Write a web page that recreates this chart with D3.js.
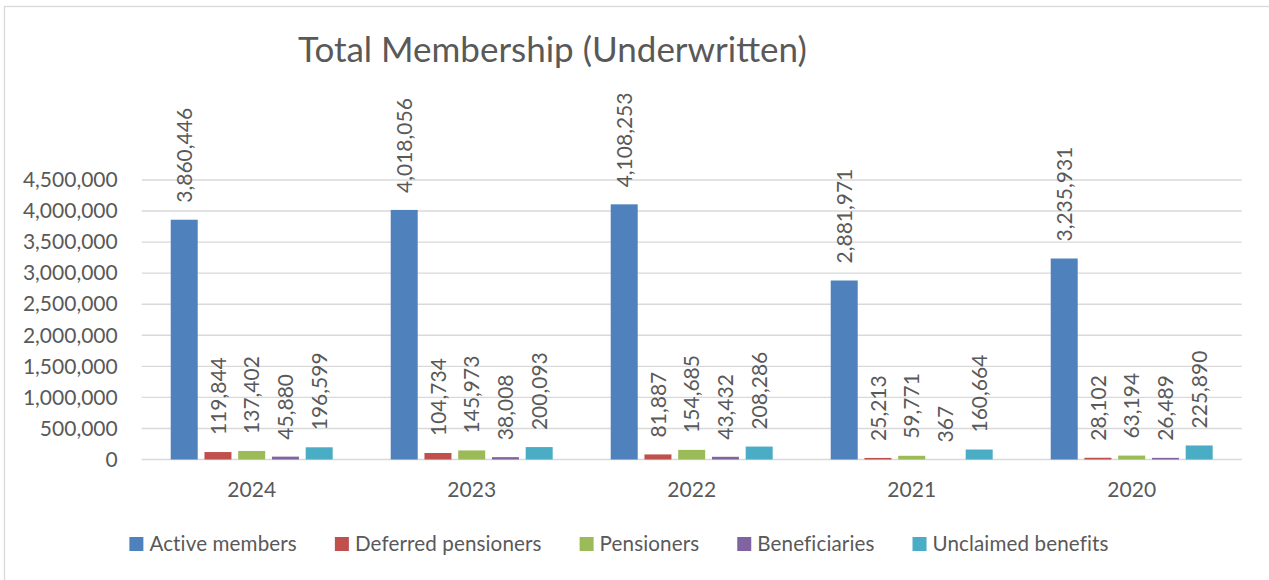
<!DOCTYPE html>
<html>
<head>
<meta charset="utf-8">
<script src="https://cdn.jsdelivr.net/npm/d3@7"></script>
<style>
  html, body { margin: 0; padding: 0; background: #fff; }
  svg { display: block; font-family: Lato, "Noto Sans", sans-serif; }
</style>
</head>
<body>
<svg id="chart" width="1269" height="580"></svg>
<script>
const title = "Total Membership (Underwritten)";
const categories = ["2024", "2023", "2022", "2021", "2020"];
const seriesNames = ["Active members", "Deferred pensioners", "Pensioners", "Beneficiaries", "Unclaimed benefits"];
const seriesColors = ["#4F81BD", "#C0504D", "#9BBB59", "#8064A2", "#4BACC6"];
const activeMembers = [3860446, 4018056, 4108253, 2881971, 3235931];
const deferredPensioners = [119844, 104734, 81887, 25213, 28102];
const pensioners = [137402, 145973, 154685, 59771, 63194];
const beneficiaries = [45880, 38008, 43432, 367, 26489];
const unclaimedBenefits = [196599, 200093, 208286, 160664, 225890];
const yTicks = [0, 500000, 1000000, 1500000, 2000000, 2500000, 3000000, 3500000, 4000000, 4500000];

const seriesValues = [activeMembers, deferredPensioners, pensioners, beneficiaries, unclaimedBenefits];

const svg = d3.select("#chart");
const textColor = "#595959";
const gridColor = "#d9d9d9";

// outer chart border
svg.append("rect")
  .attr("x", 4.5).attr("y", 6.5)
  .attr("width", 1300).attr("height", 620)
  .attr("fill", "none").attr("stroke", gridColor).attr("stroke-width", 1.3);

const plot = { left: 141.7, right: 1241.7, top: 180, bottom: 459.5 };

const x0 = d3.scaleBand().domain(categories).range([plot.left, plot.right]).paddingInner(0).paddingOuter(0);
const groupW = x0.bandwidth();
const barW = groupW / 8.15;
const step = barW * 1.25;
const clusterW = step * 4 + barW;
const x1 = d3.scaleBand().domain(seriesNames).range([(groupW - clusterW) / 2, (groupW - clusterW) / 2 + step * 5]).paddingInner(0);

const y = d3.scaleLinear().domain([0, 4500000]).range([plot.bottom, plot.top]);

// gridlines
svg.append("g").selectAll("line").data(yTicks).join("line")
  .attr("x1", plot.left).attr("x2", plot.right)
  .attr("y1", d => y(d)).attr("y2", d => y(d))
  .attr("stroke", gridColor).attr("stroke-width", 1.4);

// y axis labels
const yAxis = d3.axisLeft(y).tickValues(yTicks).tickFormat(d3.format(",")).tickSize(0).tickPadding(0);
const yg = svg.append("g").attr("transform", `translate(${plot.left - 24},0)`).call(yAxis);
yg.select(".domain").remove();
yg.selectAll("text").attr("fill", textColor).style("font-size", "21px").style("font-family", "Lato, 'Noto Sans', sans-serif");

// x axis labels
const xAxis = d3.axisBottom(x0).tickSize(0).tickPadding(0);
const xg = svg.append("g").attr("transform", `translate(0,${plot.bottom + 23})`).call(xAxis);
xg.select(".domain").remove();
xg.selectAll("text").attr("fill", textColor).style("font-size", "21px").style("font-family", "Lato, 'Noto Sans', sans-serif");

// bars
const flat = [];
categories.forEach((c, i) => {
  seriesNames.forEach((s, j) => {
    flat.push({ cat: c, series: s, value: seriesValues[j][i], color: seriesColors[j] });
  });
});

const bars = svg.append("g");
bars.selectAll("rect").data(flat).join("rect")
  .attr("x", d => x0(d.cat) + x1(d.series))
  .attr("width", barW)
  .attr("y", d => y(d.value))
  .attr("height", d => plot.bottom - y(d.value))
  .attr("fill", d => d.color);

// data labels
svg.append("g").selectAll("text").data(flat).join("text")
  .attr("transform", d => `translate(${x0(d.cat) + x1(d.series) + barW / 2},${y(d.value) - 17}) rotate(-90)`)
  .attr("text-anchor", "start")
  .attr("dy", "0.36em")
  .attr("fill", textColor)
  .style("font-size", "21px")
  .text(d => d3.format(",")(d.value));

// title
svg.append("text")
  .attr("x", 298).attr("y", 62)
  .attr("fill", textColor)
  .style("font-size", "35px")
  .text(title);

// legend
const legend = svg.append("g");
const items = legend.selectAll("g").data(seriesNames).join("g");
items.append("rect").attr("width", 14).attr("height", 14).attr("y", -14)
  .attr("fill", (d, i) => seriesColors[i]);
items.append("text").attr("x", 20).attr("y", 0)
  .attr("fill", textColor).style("font-size", "20.6px").style("letter-spacing", "0.12px").text(d => d);
let cx = 0;
items.each(function () {
  const g = d3.select(this);
  const w = 20 + g.select("text").node().getComputedTextLength();
  g.attr("transform", `translate(${cx},0)`);
  cx += w + 38;
});
const totalW = cx - 38;
legend.attr("transform", `translate(${619 - totalW / 2},551)`);
</script>
</body>
</html>
